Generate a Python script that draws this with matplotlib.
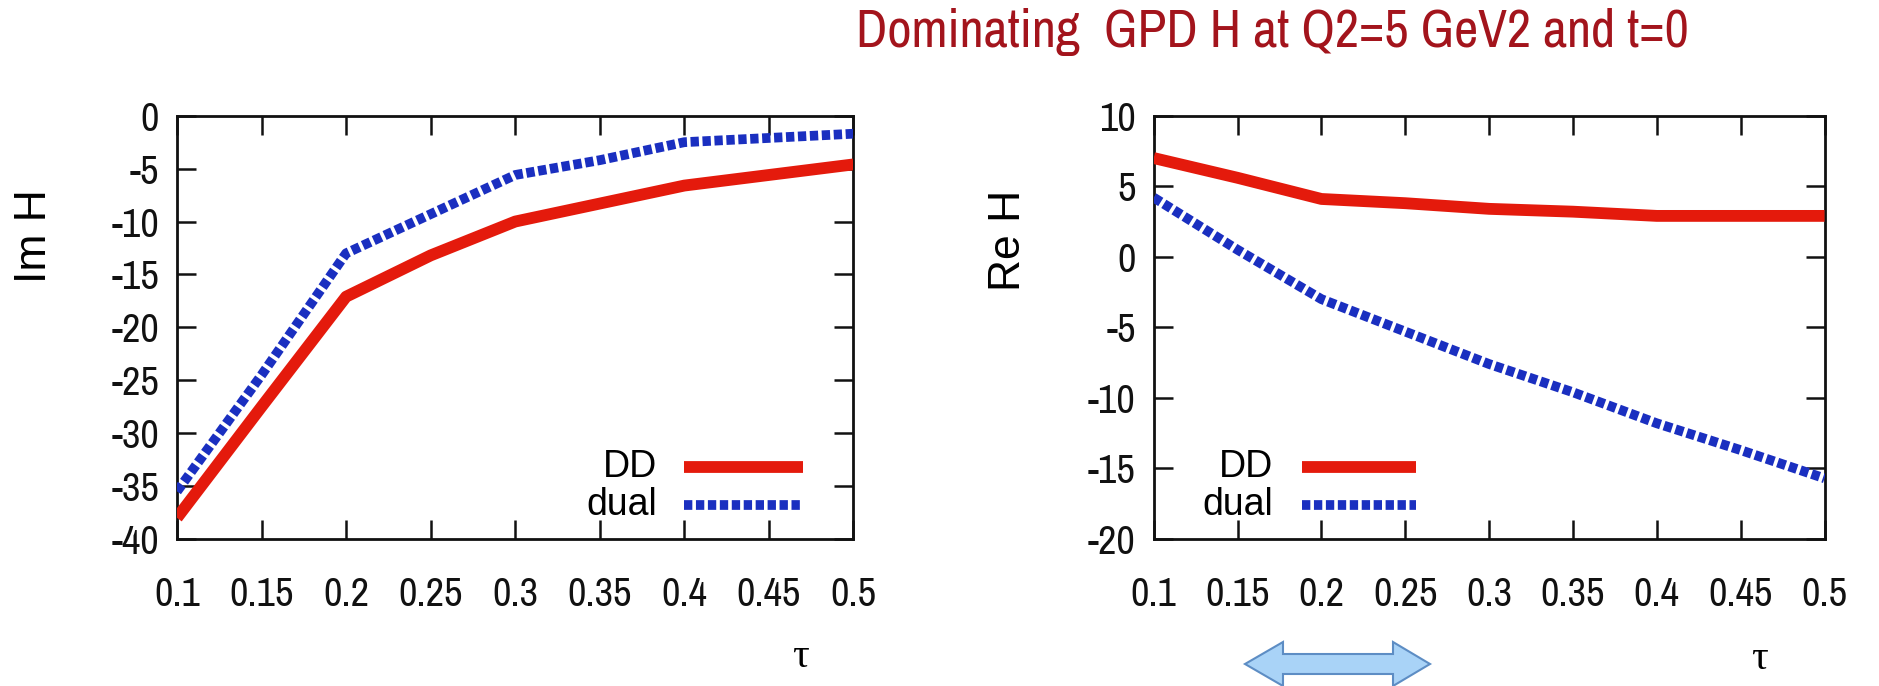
import matplotlib
matplotlib.use("Agg")
import matplotlib.pyplot as plt
from matplotlib.patches import Polygon

# dane
tau = [0.1, 0.15, 0.2, 0.25, 0.3, 0.35, 0.4, 0.45, 0.5]
im_dd = [-38.0, -27.5, -17.1, -13.2, -10.0, -8.3, -6.6, -5.6, -4.6]
im_dual = [-35.5, -24.5, -13.0, -9.3, -5.6, -4.2, -2.5, -2.1, -1.7]
re_dd = [7.0, 5.6, 4.1, 3.8, 3.4, 3.2, 2.9, 2.9, 2.9]
re_dual = [4.2, 0.5, -3.0, -5.3, -7.6, -9.6, -11.8, -13.7, -15.7]

x_ticks = [0.1, 0.15, 0.2, 0.25, 0.3, 0.35, 0.4, 0.45, 0.5]
x_tick_labels = ["0.1", "0.15", "0.2", "0.25", "0.3", "0.35", "0.4", "0.45", "0.5"]
im_ticks = [-40, -35, -30, -25, -20, -15, -10, -5, 0]
re_ticks = [-20, -15, -10, -5, 0, 5, 10]

title = "Dominating  GPD H at Q2=5 GeV2 and t=0"
red = "#e41a0c"
blue = "#1a2fc0"

NARROW = ["Archivo Narrow", "Liberation Sans", "DejaVu Sans"]
SANS = ["Liberation Sans", "DejaVu Sans"]
plt.rcParams["font.family"] = NARROW
plt.rcParams["axes.unicode_minus"] = False
plt.rcParams["lines.scale_dashes"] = False

fig = plt.figure(figsize=(18.79, 6.86), dpi=100)
ax1 = fig.add_axes([0.0942, 0.2143, 0.360, 0.617])
ax2 = fig.add_axes([0.614, 0.2143, 0.357, 0.617])

DASH = (6, 2.6)
LW_DD = 8.5
LW_DUAL = 7


def rysuj(ax, dd, dual, yticks, ylim, leg_x, leg_text_x):
    ax.plot(tau, dd, color=red, lw=LW_DD, solid_capstyle="butt", zorder=3)
    ax.plot(tau, dual, color=blue, lw=LW_DUAL, dashes=DASH, zorder=3)
    ax.set_xlim(0.1, 0.5)
    ax.set_ylim(*ylim)
    ax.set_xticks(x_ticks)
    ax.set_xticklabels(x_tick_labels)
    ax.set_yticks(yticks)
    ax.tick_params(direction="in", length=14, width=1.8, top=True, right=True,
                   labelsize=29, colors="#111111")
    ax.tick_params(axis="x", pad=27)
    ax.tick_params(axis="y", pad=13)
    for s in ax.spines.values():
        s.set_linewidth(2)
        s.set_color("#111111")

    # legenda w stylu gnuplota
    ax.plot(leg_x, [0.17, 0.17], color=red, lw=LW_DD, transform=ax.transAxes,
            solid_capstyle="butt", clip_on=False)
    ax.plot(leg_x, [0.08, 0.08], color=blue, lw=LW_DUAL, dashes=DASH,
            transform=ax.transAxes, clip_on=False)
    ax.text(leg_text_x, 0.17, "DD", transform=ax.transAxes, ha="right",
            va="center", fontsize=27, family=SANS)
    ax.text(leg_text_x, 0.08, "dual", transform=ax.transAxes, ha="right",
            va="center", fontsize=27, family=SANS)


rysuj(ax1, im_dd, im_dual, im_ticks, (-40, 0), [0.75, 0.925], 0.71)
rysuj(ax2, re_dd, re_dual, re_ticks, (-20, 10), [0.221, 0.391], 0.178)

fig.text(35 / 1879, 1 - 236 / 686, "Im H", rotation=90, ha="center",
         va="center", fontsize=32, family=SANS)
fig.text(1008 / 1879, 1 - 240 / 686, "Re H", rotation=90, ha="center",
         va="center", fontsize=32, family=SANS)
fig.text(800 / 1879, 1 - 657 / 686, "τ", ha="center", va="center",
         fontsize=30, family=["Liberation Serif", "DejaVu Serif"])
fig.text(1759 / 1879, 1 - 659 / 686, "τ", ha="center", va="center",
         fontsize=30, family=["Liberation Serif", "DejaVu Serif"])

fig.text(1272 / 1879, 1 - 32 / 686, title, ha="center", va="center",
         fontsize=38, color="#a3141c")

# niebieska podwójna strzałka pod prawym wykresem
W, H = 1879, 686
pts = [(1245, 664), (1283, 642), (1283, 654), (1393, 654), (1393, 642),
       (1430, 664), (1393, 686), (1393, 674), (1283, 674), (1283, 686)]
arrow = Polygon([(x / W, 1 - y / H) for x, y in pts], closed=True,
                transform=fig.transFigure, facecolor="#a9d3f7",
                edgecolor="#5d8dc4", lw=1.5)
fig.patches.append(arrow)

fig.savefig("out.png", dpi=100)
